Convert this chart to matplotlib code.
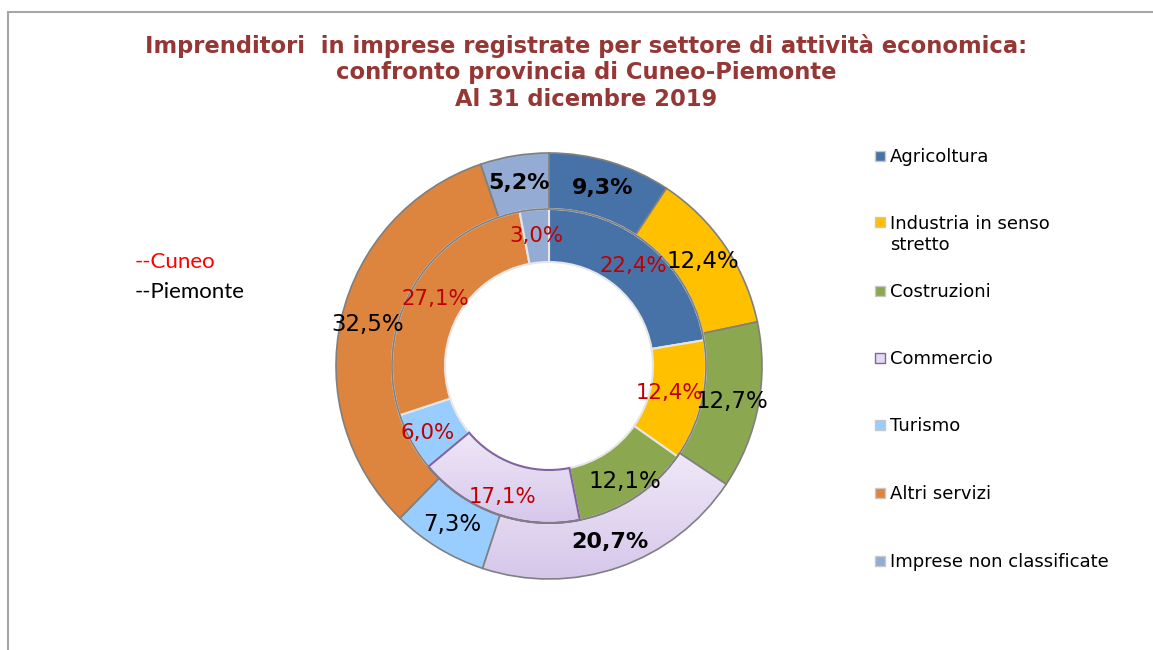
import matplotlib
matplotlib.use("Agg")
import matplotlib.pyplot as plt
import numpy as np
from matplotlib.patches import Rectangle, Circle

# ---------------- data ----------------
categories = ["Agricoltura", "Industria in senso\nstretto", "Costruzioni", "Commercio",
              "Turismo", "Altri servizi", "Imprese non classificate"]
cuneo = [22.4, 12.4, 12.1, 17.1, 6.0, 27.1, 3.0]        # inner ring
piemonte = [9.3, 12.4, 12.7, 20.7, 7.3, 32.5, 5.2]      # outer ring
title_lines = ["Imprenditori  in imprese registrate per settore di attività economica:",
               "confronto provincia di Cuneo-Piemonte",
               "Al 31 dicembre 2019"]

colors = ["#4672A8", "#FFC000", "#8BA74F", "#E4D9F0", "#99CCFF", "#DD843E", "#94ACD3"]
outer_bold = [True, False, False, True, False, False, True]
inner_label_colors = ["#C00000", "#C00000", "#000000", "#C00000", "#C00000", "#C00000", "#C00000"]

W, H = 1153, 650
fig = plt.figure(figsize=(W / 100, H / 100), dpi=100)
fig.patch.set_facecolor("white")

# frame
fig.add_artist(Rectangle((8 / W, -0.1), 2.0, 1 - 12 / H + 0.1, transform=fig.transFigure,
                         fill=False, edgecolor="#A6A6A6", linewidth=1.5))

cx, cy, R = 549, 366, 213
ax = fig.add_axes([(cx - R) / W, (H - cy - R) / H, 2 * R / W, 2 * R / H])
r_mid = 157 / 213
r_in = 104 / 213

outer, _ = ax.pie(piemonte, radius=1, startangle=90, counterclock=False, colors=colors,
                  wedgeprops=dict(width=1 - r_mid, edgecolor="#808080", linewidth=1.2))
inner, _ = ax.pie(cuneo, radius=r_mid, startangle=90, counterclock=False, colors=colors,
                  wedgeprops=dict(width=r_mid - r_in, edgecolor="#E6E6E6", linewidth=1.5))

# gradient for Commercio
grad = np.linspace(0, 1, 256).reshape(-1, 1)
top_c = np.array([0.94, 0.91, 0.97])
bot_c = np.array([0.84, 0.78, 0.92])
img = (top_c[None, None, :] * (1 - grad[..., None]) + bot_c[None, None, :] * grad[..., None])
for w, ec in [(outer[3], "#808080"), (inner[3], "#8064A2")]:
    bb = w.get_path().get_extents()
    w.set_facecolor("none")
    w.set_edgecolor(ec)
    w.set_zorder(2)
    im = ax.imshow(img, extent=(bb.x0, bb.x1, bb.y0, bb.y1), origin="upper",
                   aspect="auto", zorder=1.5)
    im.set_clip_path(w)

ax.add_patch(Circle((0, 0), r_mid, fill=False, edgecolor="#808080", linewidth=1.2, zorder=3))

def fmt(v):
    return f"{v:.1f}%".replace(".", ",")

for w, v, b in zip(outer, piemonte, outer_bold):
    t = np.deg2rad((w.theta1 + w.theta2) / 2)
    r = 0.873
    ax.text(r * np.cos(t), r * np.sin(t), fmt(v), ha="center", va="center",
            fontsize=16 if b else 16.5, fontweight="bold" if b else "normal",
            color="black", zorder=5)

inner_r = [0.615, 0.58, 0.65, 0.65, 0.65, 0.62, 0.615]
for w, v, c, r in zip(inner, cuneo, inner_label_colors, inner_r):
    t = np.deg2rad((w.theta1 + w.theta2) / 2)
    ax.text(r * np.cos(t), r * np.sin(t), fmt(v), ha="center", va="center",
            fontsize=16.5 if c == "#000000" else 15.3, color=c, zorder=5)

ax.set_xlim(-1, 1)
ax.set_ylim(-1, 1)
ax.set_aspect("equal")
ax.axis("off")

# title
for ln, y in zip(title_lines, [46, 73, 100]):
    fig.text(586 / W, 1 - y / H, ln, ha="center", va="center", fontsize=16.3,
             fontweight="bold", color="#953735")

# side notes
fig.text(135 / W, 1 - 262 / H, "--Cuneo", color="#FF0000", fontsize=16,
         family=["Lato", "DejaVu Sans"], va="center")
fig.text(135 / W, 1 - 292 / H, "--Piemonte", color="black", fontsize=16,
         family=["Lato", "DejaVu Sans"], va="center")

# legend
leg_y = [156, 222, 291, 358, 425, 493, 561]
for cat, col, y in zip(categories, colors, leg_y):
    ec = "#8064A2" if cat == "Commercio" else "#C8C8C8"
    fig.add_artist(Rectangle((875 / W, 1 - (y + 5) / H), 10 / W, 10 / H,
                             transform=fig.transFigure, facecolor=col, edgecolor=ec,
                             linewidth=1))
    nextra = cat.count("\n")
    fig.text(890 / W, 1 - (y + 6 + 22 * nextra) / H, cat, fontsize=13, va="baseline",
             ha="left", color="black", linespacing=1.2)

fig.savefig("out.png", dpi=100)
